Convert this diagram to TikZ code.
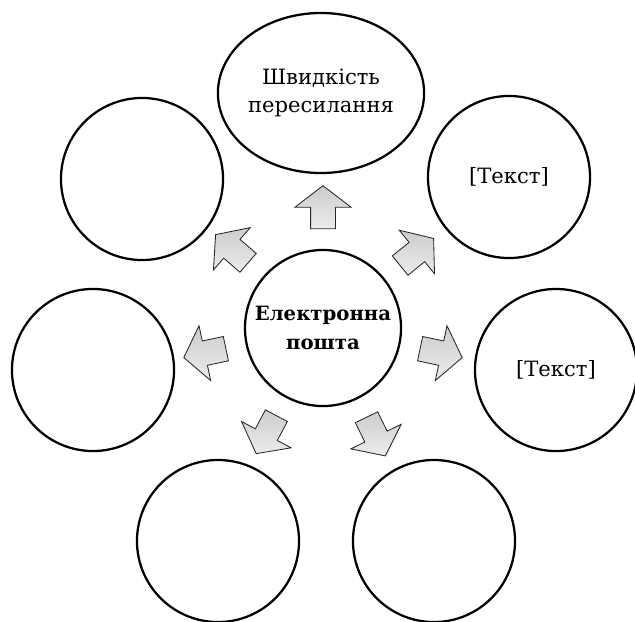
\documentclass[tikz,border=0pt]{standalone}
\usepackage{fontspec}
\setmainfont{DejaVu Serif}
\usetikzlibrary{shapes.geometric, shapes.arrows, positioning}

\begin{document}
\begin{tikzpicture}[x=0.025cm, y=-0.025cm,
    bubble/.style={circle, draw=black, line width=1.6pt, minimum size=4.05cm, inner sep=0pt, align=center, font=\fontsize{15}{20}\selectfont},
    pointer/.style={single arrow, draw=black!85, line width=0.6pt, minimum height=1.075cm, inner sep=0.3cm, single arrow head extend=0.39cm, single arrow tip angle=105, top color=gray!40, middle color=white, bottom color=gray!15}
]
\useasboundingbox (0,0) rectangle (635,621);
\node[bubble, minimum size=3.9cm, font=\fontsize{14}{20}\selectfont\bfseries] (mail) at (323,328) {Електронна\\пошта};
\node[bubble, ellipse, minimum width=4.75cm, minimum height=4cm] (speed) at (321,93) {Швидкість\\пересилання};
\node[bubble] (tl) at (142,179) {};
\node[bubble] (tr) at (509,177) {[Текст]};
\node[bubble] (ml) at (93,370) {};
\node[bubble] (mr) at (556,370) {[Текст]};
\node[bubble] (bl) at (218,541) {};
\node[bubble] (br) at (434,541) {};

\foreach \ang/\name in {90/p1, 139/p2, 39/p3, 192/p4, -12/p5, 242/p6, -64/p7}
    \node[pointer, rotate=\ang] (\name) at ([shift={(\ang:2.9cm)}]mail) {};
\end{tikzpicture}
\end{document}
